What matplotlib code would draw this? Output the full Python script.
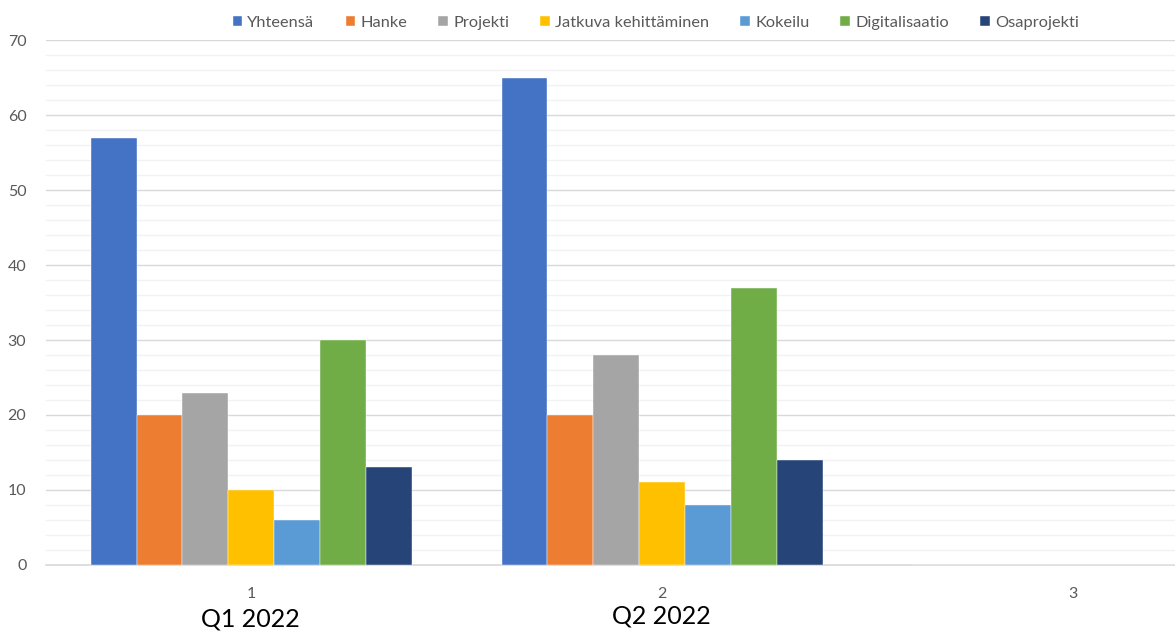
import numpy as np
import matplotlib
matplotlib.use("Agg")
import matplotlib.pyplot as plt
from matplotlib.ticker import MultipleLocator

# data
categories = [1, 2, 3]
series_names = ["Yhteensä", "Hanke", "Projekti", "Jatkuva kehittäminen",
                "Kokeilu", "Digitalisaatio", "Osaprojekti"]
yhteensa = [57, 65, 0]
hanke = [20, 20, 0]
projekti = [23, 28, 0]
jatkuva = [10, 11, 0]
kokeilu = [6, 8, 0]
digitalisaatio = [30, 37, 0]
osaprojekti = [13, 14, 0]
quarter_labels = ["Q1 2022", "Q2 2022"]

colors = ["#4472C4", "#ED7D31", "#A5A5A5", "#FFC000",
          "#5B9BD5", "#70AD47", "#264478"]

plt.rcParams['font.family'] = ['Lato', 'DejaVu Sans']

fig = plt.figure(figsize=(11.75, 6.31), dpi=100)
ax = fig.add_axes([0.039, 0.1046, 0.961, 0.832])

series = [yhteensa, hanke, projekti, jatkuva, kokeilu, digitalisaatio, osaprojekti]
x = np.array(categories, dtype=float)
width = 0.1117
for i, (name, vals) in enumerate(zip(series_names, series)):
    offs = (i - 3) * width
    ax.bar(x + offs, vals, width=width, color=colors[i], label=name,
           edgecolor='white', linewidth=0.3, zorder=3)

ax.set_xlim(0.5, 3.248)
ax.set_ylim(0, 70)
ax.yaxis.set_major_locator(MultipleLocator(10))
ax.yaxis.set_minor_locator(MultipleLocator(2))
ax.grid(axis='y', which='major', color='#d9d9d9', linewidth=1.0, zorder=0)
ax.grid(axis='y', which='minor', color='#f2f2f2', linewidth=1.0, zorder=0)
ax.set_axisbelow(True)

for s in ['top', 'right', 'left']:
    ax.spines[s].set_visible(False)
ax.spines['bottom'].set_color('#d9d9d9')
ax.spines['bottom'].set_linewidth(1.2)

ax.set_xticks(categories)
ax.set_xticklabels([str(c) for c in categories])
ax.tick_params(axis='both', which='both', length=0, labelsize=11.5,
               labelcolor='#595959')
ax.tick_params(axis='x', pad=16)
ax.tick_params(axis='y', pad=14)

# quarter labels under the first two categories
fig.text(0.2128, 0.0, quarter_labels[0], fontsize=18, color='#000000',
         ha='center', va='bottom')
fig.text(0.5625, 0.006, quarter_labels[1], fontsize=18, color='#000000',
         ha='center', va='bottom')

ax.legend(loc='center', bbox_to_anchor=(0.558, 0.964), bbox_transform=fig.transFigure,
          ncol=7, frameon=False, fontsize=11.8, handlelength=0.6,
          handleheight=0.6, handletextpad=0.3, columnspacing=1.9,
          labelcolor='#595959')

fig.savefig("out.png", dpi=100)
